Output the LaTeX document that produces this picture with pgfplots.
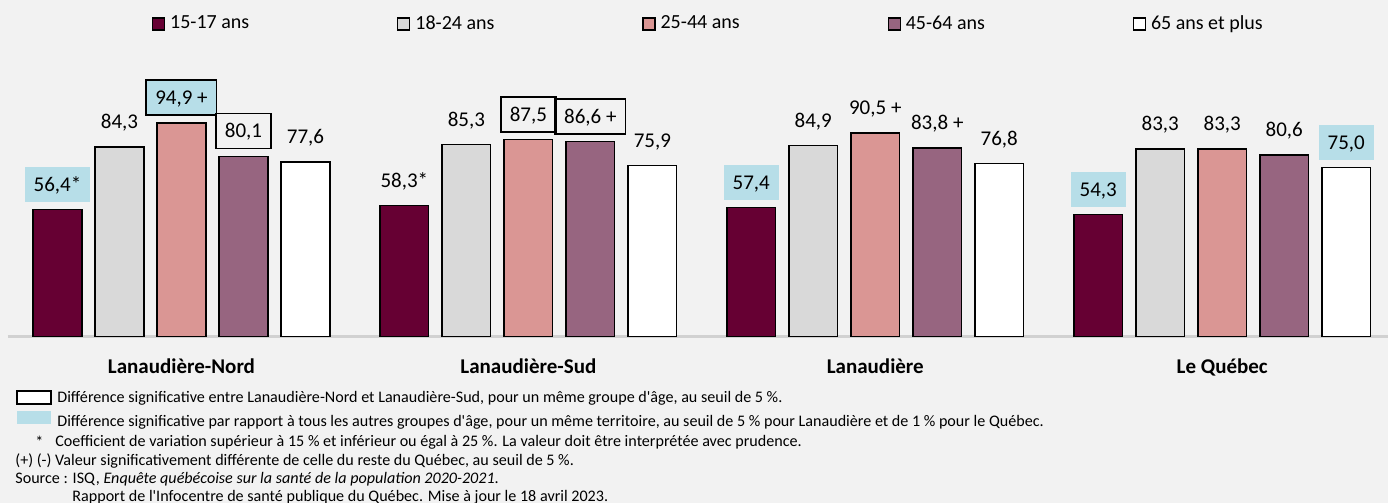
\documentclass[border=0pt]{standalone}
\usepackage{pgfplots}
\pgfplotsset{compat=1.18}
\usepackage{pgfplotstable}
\usepackage{fontspec}
\setmainfont{Carlito}[Ligatures=TeXOff]
\definecolor{bgc}{HTML}{F2F2F2}
\definecolor{cA}{HTML}{660033}
\definecolor{cB}{HTML}{D9D9D9}
\definecolor{cC}{HTML}{DA9694}
\definecolor{cD}{HTML}{976580}
\definecolor{cE}{HTML}{FFFFFF}
\definecolor{lblue}{HTML}{B7DEE8}

\pgfplotstableread[col sep=semicolon,row sep=\\]{
x;y;lab\\
0;56.4;56,4*\\
1;58.3;58,3*\\
2;57.4;57,4\\
3;54.3;54,3\\
}\tA
\pgfplotstableread[col sep=semicolon,row sep=\\]{
x;y;lab\\
0;84.3;84,3\\
1;85.3;85,3\\
2;84.9;84,9\\
3;83.3;83,3\\
}\tB
\pgfplotstableread[col sep=semicolon,row sep=\\]{
x;y;lab\\
0;94.9;94,9 +\\
1;87.5;87,5\\
2;90.5;90,5 +\\
3;83.3;83,3\\
}\tC
\pgfplotstableread[col sep=semicolon,row sep=\\]{
x;y;lab\\
0;80.1;80,1\\
1;86.6;86,6 +\\
2;83.8;83,8 +\\
3;80.6;80,6\\
}\tD
\pgfplotstableread[col sep=semicolon,row sep=\\]{
x;y;lab\\
0;77.6;77,6\\
1;75.9;75,9\\
2;76.8;76,8\\
3;75.0;75,0\\
}\tE

\begin{document}
\begin{tikzpicture}
\path[use as bounding box, fill=bgc] (0,0) rectangle (694pt,251.5pt);
\begin{axis}[
  at={(4pt,83.25pt)}, anchor=south west,
  scale only axis, width=690pt, height=123.75pt,
  xmin=-0.5, xmax=3.478, ymin=0, ymax=110,
  clip=false,
  ybar=6.7pt, bar width=24.3pt,
  axis x line*=bottom, axis y line=none,
  x axis line style={draw=black!18, line width=1.2pt},
  xtick={0,1,2,3},
  xticklabels={Lanaudière-Nord,Lanaudière-Sud,Lanaudière,Le Québec},
  major tick length=0pt,
  xticklabel style={anchor=base, yshift=-18.7pt, font=\fontsize{10.5}{12.6}\selectfont\bfseries},
  ytick=\empty,
  every axis plot/.append style={draw=black, line width=0.75pt},
  point meta=explicit symbolic,
  nodes near coords,
  every node near coord/.append style={anchor=south, yshift=3.5pt,
      line width=0.8pt,
      inner xsep=4.5pt, inner ysep=0pt, text height=7pt, text depth=0pt, minimum height=17.5pt,
      font=\fontsize{10.5}{12.6}\selectfont, text=black},
  legend columns=5,
  legend image code/.code={\draw[#1, line width=0.6pt] (0pt,-3pt) rectangle (6pt,3pt);},
  legend style={draw=none, fill=none, inner sep=0pt, outer sep=0pt,
    at={(0.10435,1.2627)}, anchor=west,
    /tikz/column sep=0pt,
    nodes={inner xsep=2.5pt, inner ysep=0pt},
    font=\fontsize{10}{12}\selectfont},
]
\addplot[fill=cA, coordinate style/.condition={\coordindex!=1}{fill=lblue},
  coordinate style/.condition={\coordindex==1}{fill=none}]
  table[x=x,y=y,meta=lab] {\tA};
\addlegendentry{\makebox[111pt][l]{15-17 ans}}
\addplot[fill=cB, coordinate style/.condition={\coordindex>-1}{fill=none}]
  table[x=x,y=y,meta=lab] {\tB};
\addlegendentry{\makebox[111pt][l]{18-24 ans}}
\addplot[fill=cC, coordinate style/.condition={\coordindex==0}{fill=lblue,draw=black},
  coordinate style/.condition={\coordindex==1}{fill=none,draw=black},
  coordinate style/.condition={\coordindex>1}{fill=none}]
  table[x=x,y=y,meta=lab] {\tC};
\addlegendentry{\makebox[111pt][l]{25-44 ans}}
\addplot[fill=cD, coordinate style/.condition={\coordindex<2}{fill=none,draw=black},
  coordinate style/.condition={\coordindex>1}{fill=none}]
  table[x=x,y=y,meta=lab] {\tD};
\addlegendentry{\makebox[111pt][l]{45-64 ans}}
\addplot[fill=cE, coordinate style/.condition={\coordindex==3}{fill=lblue},
  coordinate style/.condition={\coordindex<3}{fill=none}]
  table[x=x,y=y,meta=lab] {\tE};
\addlegendentry{\makebox[111pt][l]{65 ans et plus}}
\end{axis}
% footnotes
\draw[fill=white, draw=black, line width=0.75pt] (8.5pt,49.5pt) rectangle (25.5pt,56pt);
\fill[lblue] (8.5pt,39.5pt) rectangle (25.5pt,46pt);
\begin{scope}[every node/.style={anchor=west, inner sep=0pt, font=\fontsize{8.05}{9.6}\selectfont}]
\node at (28.5pt,52.5pt) {Différence significative entre Lanaudière-Nord et Lanaudière-Sud, pour un même groupe d'âge, au seuil de 5 \%.};
\node at (28.5pt,40.5pt) {Différence significative par rapport à tous les autres groupes d'âge, pour un même territoire, au seuil de 5 \% pour Lanaudière et de 1 \% pour le Québec.};
\node at (17.5pt,30.5pt) {*};
\node at (27.5pt,30.5pt) {Coefficient de variation supérieur à 15 \% et inférieur ou égal à 25 \%. La valeur doit être interprétée avec prudence.};
\node at (7.5pt,21pt) {(+) (-) Valeur significativement différente de celle du reste du Québec, au seuil de 5 \%.};
\node at (7.5pt,12pt) {Source : ISQ, \textit{Enquête québécoise sur la santé de la population 2020-2021}.};
\node at (36pt,3pt) {Rapport de l'Infocentre de santé publique du Québec. Mise à jour le 18 avril 2023.};
\end{scope}
\end{tikzpicture}
\end{document}
